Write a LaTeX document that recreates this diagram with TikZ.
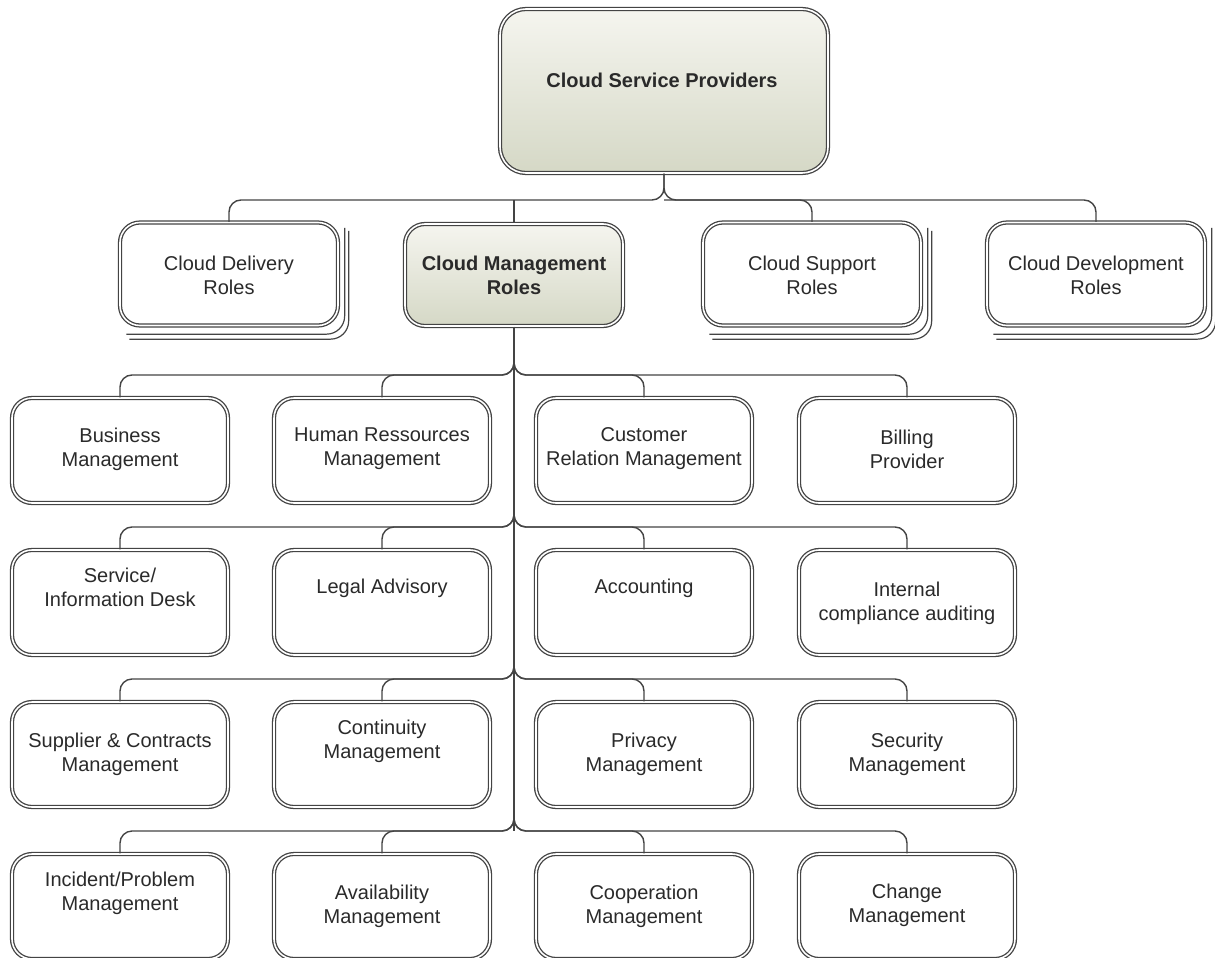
\documentclass[tikz,border=0pt]{standalone}
\usepackage{fontspec}
\setmainfont{Liberation Sans}
\usetikzlibrary{calc}

\definecolor{edge}{HTML}{444444}
\definecolor{ink}{HTML}{2A2A2A}
\definecolor{shadeTop}{HTML}{F5F5EF}
\definecolor{shadeBot}{HTML}{D5D8C6}

\tikzset{
  box/.style={draw=edge, line width=1.3pt, double=white, double distance=1.6pt,
              rounded corners=20pt, inner sep=0pt},
  leaf/.style={box, fill=white, minimum width=216pt, minimum height=105pt},
  role/.style={box, fill=white, minimum width=218pt, minimum height=103pt},
  head/.style={box, top color=shadeTop, bottom color=shadeBot},
  lbl/.style={text=ink, font=\fontsize{20}{24}\selectfont, align=center, inner sep=0pt},
  bold/.style={lbl, font=\fontsize{20}{24}\selectfont\bfseries},
  conn/.style={draw=edge, line width=1.4pt, rounded corners=12pt},
  stackline/.style={draw=edge, line width=1.2pt, rounded corners=18pt},
}

\begin{document}
\begin{tikzpicture}[x=1pt, y=-1pt]
\useasboundingbox (0,0) rectangle (1215,958);
\clip (0,0) rectangle (1215,958);
\fill[white] (0,0) rectangle (1215,958);

% ---- root ----
\node[head, rounded corners=26pt, minimum width=328pt, minimum height=164pt] (csp) at (664,91) {};
\node[bold] (csp-t) at (662,80) {Cloud Service Providers};

% ---- role groups ----
\node[role] (cdr) at (229,274) {};
\node[role] (csr) at (812,274) {};
\node[role] (cdv) at (1096,274) {};
\node[head, minimum width=218pt, minimum height=102pt] (cmr) at (514,275) {};

% stacked outlines behind the three plain role groups
\foreach \nm in {cdr, csr, cdv}{
  \draw[stackline] ($(\nm.south west)+(7,8)$) -| ($(\nm.north east)+(6,6)$);
  \draw[stackline] ($(\nm.south west)+(10,13)$) -| ($(\nm.north east)+(10,9)$);
}

\node[lbl]  (cdr-t) at (229,275) {Cloud Delivery\\Roles};
\node[bold] (cmr-t) at (514,275) {Cloud Management\\Roles};
\node[lbl]  (csr-t) at (812,275) {Cloud Support\\Roles};
\node[lbl]  (cdv-t) at (1096,275) {Cloud Development\\Roles};

% ---- management roles ----
\node[leaf] (bm)  at (120,450.5) {};
\node[leaf] (hr)  at (382,450.5) {};
\node[leaf] (crm) at (644,450.5) {};
\node[leaf] (bp)  at (907,450.5) {};

\node[leaf] (sid) at (120,602.5) {};
\node[leaf] (la)  at (382,602.5) {};
\node[leaf] (acc) at (644,602.5) {};
\node[leaf] (ica) at (907,602.5) {};

\node[leaf] (scm) at (120,754.5) {};
\node[leaf] (ctm) at (382,754.5) {};
\node[leaf] (pm)  at (644,754.5) {};
\node[leaf] (sm)  at (907,754.5) {};

\node[leaf] (ipm) at (120,906.5) {};
\node[leaf] (am)  at (382,906.5) {};
\node[leaf] (com) at (644,906.5) {};
\node[leaf] (chm) at (907,906.5) {};

\node[lbl] (bm-t)  at (120,449) {Business\\Management};
\node[lbl] (hr-t)  at (382,449) {Human Ressources\\Management};
\node[lbl] (crm-t) at (644,449) {Customer\\Relation Management};
\node[lbl] (bp-t)  at (907,449) {Billing\\Provider};

\node[lbl] (sid-t) at (120,587) {Service/\\Information Desk};
\node[lbl] (la-t)  at (382,588) {Legal Advisory};
\node[lbl] (acc-t) at (644,588) {Accounting};
\node[lbl] (ica-t) at (907,603) {Internal\\compliance auditing};

\node[lbl] (scm-t) at (120,754) {Supplier \& Contracts\\Management};
\node[lbl] (ctm-t) at (382,741) {Continuity\\Management};
\node[lbl] (pm-t)  at (644,754) {Privacy\\Management};
\node[lbl] (sm-t)  at (907,754) {Security\\Management};

\node[lbl] (ipm-t) at (120,893) {Incident/Problem\\Management};
\node[lbl] (am-t)  at (382,906) {Availability\\Management};
\node[lbl] (com-t) at (644,906) {Cooperation\\Management};
\node[lbl] (chm-t) at (907,905) {Change\\Management};

% ---- connectors: root to role groups ----
\coordinate (bus) at (664,200);
\draw[conn] (csp.south) -- (bus) -| (cdr.north);
\draw[conn] (csp.south) -- (bus) -| (cdv.north);
\draw[conn] (bus) -| (csr.north);
\draw[conn] (cmr.north |- bus) -- (cmr.north);

% ---- connectors: management trunk and branches ----
\coordinate (j1) at (514,375);
\coordinate (j2) at (514,527);
\coordinate (j3) at (514,679);
\coordinate (j4) at (514,831);
\draw[conn] (cmr.south) -- (j4);
\foreach \j/\a/\b/\c/\d in {j1/bm/hr/crm/bp, j2/sid/la/acc/ica, j3/scm/ctm/pm/sm, j4/ipm/am/com/chm}{
  \foreach \leafnode in {\a,\b,\c,\d}{
    \draw[conn] ($(\j)+(0,-22)$) -- (\j) -| (\leafnode.north);
  }
}
\end{tikzpicture}
\end{document}
